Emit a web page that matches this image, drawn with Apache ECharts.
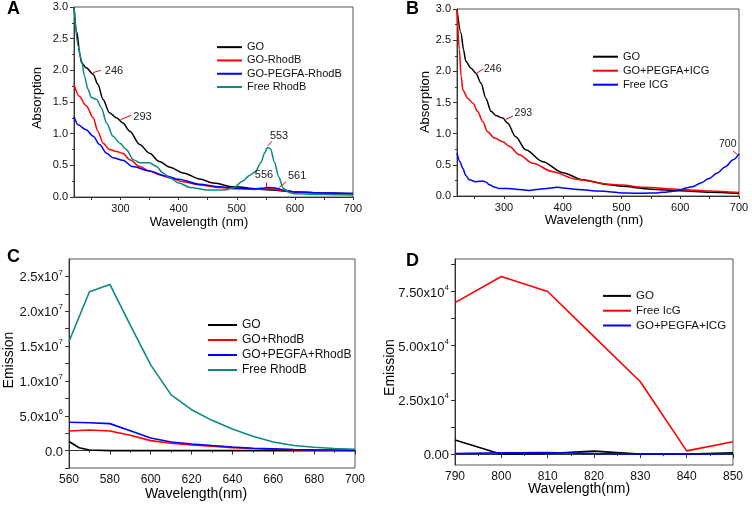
<!DOCTYPE html>
<html><head><meta charset="utf-8">
<script src="https://cdn.jsdelivr.net/npm/echarts@6/dist/echarts.min.js"></script>
<style>html,body{margin:0;padding:0;background:#fff}#c{width:752px;height:507px}</style>
</head><body><div id="c"></div>
<script>
// ---------- Panel A (absorption) ----------
const A_GO_x = [220,225,230,233,241,253,261,270,281,293,304,316,333,350,367,385,408,436,460,494,550,600,650,700];
const A_GO_y = [3.0,2.6,2.25,2.12,2.04,1.94,1.78,1.54,1.33,1.25,1.17,1.04,0.83,0.69,0.56,0.47,0.38,0.285,0.22,0.16,0.115,0.08,0.062,0.045];
const A_RB_x = [220,229,241,253,261,270,281,293,304,316,333,350,367,385,408,436,470,500,530,545,556,568,580,600,650,700];
const A_RB_y = [1.78,1.59,1.44,1.25,1.04,0.85,0.75,0.72,0.69,0.59,0.48,0.41,0.35,0.30,0.24,0.19,0.15,0.13,0.12,0.125,0.13,0.12,0.10,0.08,0.06,0.05];
const A_PEG_x = [220,227,241,253,264,276,287,304,321,350,379,400,436,470,500,530,545,556,568,580,600,650,700];
const A_PEG_y = [1.27,1.14,1.06,0.96,0.83,0.69,0.62,0.58,0.48,0.41,0.33,0.28,0.20,0.16,0.14,0.13,0.14,0.15,0.14,0.11,0.08,0.065,0.06];
const A_FREE_x = [220,227,233,238,244,250,259,267,276,287,299,310,322,333,350,362,373,385,400,420,450,480,495,510,522,532,542,548,553,558,565,572,580,590,600,650,700];
const A_FREE_y = [3.0,2.39,2.15,1.91,1.70,1.57,1.54,1.41,1.17,0.96,0.85,0.75,0.59,0.54,0.54,0.48,0.38,0.30,0.22,0.15,0.11,0.11,0.15,0.25,0.34,0.40,0.55,0.70,0.78,0.76,0.55,0.32,0.14,0.07,0.05,0.04,0.03];

// ---------- Panel B (absorption) ----------
const B_GO_x = [220,227,231,235,244,252,261,269,278,286,298,306,320,337,366,400,434,479,500,550,600,650,700];
const B_GO_y = [3.0,2.61,2.35,2.16,2.05,1.97,1.81,1.57,1.36,1.29,1.25,1.17,0.95,0.74,0.55,0.375,0.26,0.18,0.155,0.11,0.085,0.06,0.04];
const B_PEG_x = [220,224,227,230,238,247,255,264,272,284,298,309,326,349,383,422,479,500,536,600,650,700];
const B_PEG_y = [3.0,2.35,1.92,1.70,1.57,1.49,1.36,1.19,1.03,0.93,0.87,0.80,0.66,0.525,0.39,0.27,0.19,0.175,0.14,0.105,0.08,0.055];
const B_ICG_x = [220,225,230,235,241,252,258,264,270,275,285,292,305,320,343,360,377,390,400,420,434,460,479,500,520,536,560,570,592,600,610,621,635,649,663,677,690,700];
const B_ICG_y = [0.69,0.55,0.44,0.33,0.26,0.23,0.235,0.24,0.22,0.18,0.14,0.12,0.12,0.11,0.09,0.11,0.125,0.14,0.13,0.11,0.10,0.08,0.07,0.05,0.045,0.045,0.05,0.06,0.08,0.10,0.13,0.15,0.21,0.28,0.37,0.47,0.58,0.675];

// ---------- Panel C (emission) ----------
const C_x = [560,570,580,590,600,610,620,630,640,650,660,670,680,690,700];
const C_GO_x = [560,565,570,580,590,600,620,640,660,680,700];
const C_GO_y = [1.3e6,4.0e5,8e4,0,0,0,0,0,0,0,0];
const C_RB_y = [2.81e6,2.96e6,2.81e6,2.19e6,1.43e6,1.05e6,8.1e5,6.2e5,4.3e5,2.9e5,1.9e5,1.2e5,8e4,5e4,3e4];
const C_PEG_y = [4.06e6,4.0e6,3.87e6,2.86e6,1.81e6,1.24e6,9.5e5,7.2e5,5.2e5,3.3e5,2.4e5,1.5e5,1.0e5,8e4,5e4];
const C_FREE_y = [1.565e7,2.28e7,2.385e7,1.80e7,1.23e7,8.0e6,5.87e6,4.34e6,3.1e6,2.05e6,1.24e6,7.2e5,4.8e5,2.9e5,1.9e5];

// ---------- Panel D (emission) ----------
const D_x = [790,800,810,820,830,840,850];
const D_GO_y = [6500,0,300,1400,0,0,600];
const D_FREE_y = [69900,81900,75000,54200,33400,1500,5700];
const D_PEG_y = [300,600,700,300,100,100,200];

// ---------- tick labels ----------
const A_xTicks = [300,400,500,600,700];
const C_yLabels = [0,5e6,1e7,1.5e7,2e7,2.5e7];
const D_yLabels = [0,25000,50000,75000];

const FONT = '"Liberation Sans", Arial, sans-serif';
const RED = '#ff0000', BLUE = '#0000ff', BLACK = '#000000', TEAL = '#0a8a80';

function xy(xs, ys){ return xs.map((x,i)=>[x, ys[i]]); }

function sciLabel(v, digits){
  if (v === 0) return '{b|' + (0).toFixed(digits) + '}';
  const e = Math.floor(Math.log10(v) + 1e-9);
  const m = v / Math.pow(10, e);
  return '{b|' + m.toFixed(digits) + 'x10}{s|' + e + '}';
}

const axisCommon = {
  axisLine:{show:true, lineStyle:{color:'#333', width:1}},
  axisTick:{show:true, inside:false, length:4, lineStyle:{color:'#333'}},
  minorTick:{show:false},
  splitLine:{show:false}
};
function xAxis(gi, min, max, extra, fs){
  return Object.assign({}, axisCommon, {type:'value', gridIndex:gi, min, max,
    axisLabel:{color:'#111', fontSize:fs, fontFamily:FONT, margin:6}}, extra);
}

const grids = [
  {left:74, top:7, width:279, height:190},
  {left:457, top:9, width:282, height:187},
  {left:69, top:259, width:286, height:209},
  {left:455, top:259, width:278, height:206}
].map(g=>Object.assign({show:true, borderColor:'#555', borderWidth:1, containLabel:false}, g));

const xAxes = [
  xAxis(0,220,700,{
    axisLabel:{color:'#111', fontSize:11, fontFamily:FONT, margin:6, customValues:A_xTicks},
    axisTick:{show:true, length:3, lineStyle:{color:'#333'}, customValues:[250,300,350,400,450,500,550,600,650,700]}
  },11),
  xAxis(1,220,700,{
    axisLabel:{color:'#111', fontSize:11, fontFamily:FONT, margin:6, customValues:A_xTicks},
    axisTick:{show:true, length:3, lineStyle:{color:'#333'}, customValues:[250,300,350,400,450,500,550,600,650,700]}
  },11),
  xAxis(2,560,700,{interval:20, minorTick:{show:true, splitNumber:2, length:2, lineStyle:{color:'#333'}},
    axisLabel:{color:'#111', fontSize:12, fontFamily:FONT, margin:6}},12),
  xAxis(3,790,850,{interval:10, minorTick:{show:true, splitNumber:2, length:2, lineStyle:{color:'#333'}},
    axisLabel:{color:'#111', fontSize:12, fontFamily:FONT, margin:6}},12)
];

const yAxes = [
  Object.assign({}, axisCommon, {type:'value', gridIndex:0, min:0, max:3, interval:0.5,
    minorTick:{show:true, splitNumber:2, length:2, lineStyle:{color:'#333'}},
    axisLabel:{color:'#111', fontSize:11, fontFamily:FONT, margin:6, formatter:v=>v.toFixed(1)}}),
  Object.assign({}, axisCommon, {type:'value', gridIndex:1, min:0, max:3, interval:0.5,
    minorTick:{show:true, splitNumber:2, length:2, lineStyle:{color:'#333'}},
    axisLabel:{color:'#111', fontSize:11, fontFamily:FONT, margin:6, formatter:v=>v.toFixed(1)}}),
  Object.assign({}, axisCommon, {type:'value', gridIndex:2, min:-2.5e6, max:2.75e7,
    axisTick:{show:true, length:4, lineStyle:{color:'#333'}, customValues:[-2.5e6,0,2.5e6,5e6,7.5e6,1e7,1.25e7,1.5e7,1.75e7,2e7,2.25e7,2.5e7]},
    axisLabel:{color:'#111', fontFamily:FONT, margin:6, customValues:C_yLabels,
      formatter:v=>sciLabel(v,1),
      rich:{b:{fontSize:13, fontFamily:FONT, color:'#111', lineHeight:16, verticalAlign:'bottom'},
            s:{fontSize:8, fontFamily:FONT, color:'#111', lineHeight:16, verticalAlign:'top'}}}}),
  Object.assign({}, axisCommon, {type:'value', gridIndex:3, min:-5000, max:90000,
    axisTick:{show:true, length:4, lineStyle:{color:'#333'}, customValues:[0,12500,25000,37500,50000,62500,75000,87500]},
    axisLabel:{color:'#111', fontFamily:FONT, margin:6, customValues:D_yLabels,
      formatter:v=>sciLabel(v,2),
      rich:{b:{fontSize:13, fontFamily:FONT, color:'#111', lineHeight:16, verticalAlign:'bottom'},
            s:{fontSize:8, fontFamily:FONT, color:'#111', lineHeight:16, verticalAlign:'top'}}}})
];

function line(name, gi, data, color, width, smooth, extra){
  return Object.assign({type:'line', name, xAxisIndex:gi, yAxisIndex:gi, data,
    symbol:'none', smooth: smooth ? 0.3 : false, smoothMonotone: smooth ? 'x' : undefined,
    lineStyle:{color, width}, itemStyle:{color}, emphasis:{disabled:true}, clip:true, z:3}, extra||{});
}

function arrows(list){
  return {silent:true, symbol:['none','arrow'], symbolSize:[0,5], label:{show:false},
    lineStyle:{color:RED, width:1, type:'solid'}, emphasis:{disabled:true},
    data:list.map(a=>[{coord:[a[0],a[1]]},{coord:[a[2],a[3]]}])};
}
function notes(list, fs){
  return {silent:true, symbol:'circle', symbolSize:0,
    label:{show:true, position:'right', distance:0, formatter:p=>p.name, color:'#222', fontSize:fs, fontFamily:FONT},
    data:list.map(n=>({name:n[0], coord:[n[1],n[2]]}))};
}

const series = [
  line('GO',0,xy(A_GO_x,A_GO_y),BLACK,1.5,true,{
    markPoint:notes([['246',273,1.99],['293',322,1.27],['553',557,0.97],['556',531,0.34],['561',588,0.33]],11),
    markLine:arrows([[253,1.965,266,2.0],[300,1.22,318,1.29],[554,0.81,560,0.88],[551,0.23,551,0.15],[585,0.24,573,0.15]])
  }),
  line('GO-RhodB',0,xy(A_RB_x,A_RB_y),RED,1.5,true),
  line('GO-PEGFA-RhodB',0,xy(A_PEG_x,A_PEG_y),BLUE,1.5,true),
  line('Free RhodB',0,xy(A_FREE_x,A_FREE_y),TEAL,1.5,true),

  line('GO',1,xy(B_GO_x,B_GO_y),BLACK,1.5,true,{
    markPoint:notes([['246',266,2.03],['293',318,1.33],['700',666,0.84]],10.5),
    markLine:arrows([[252,1.96,265,2.04],[303,1.23,315,1.28],[690,0.72,698,0.66]])
  }),
  line('GO+PEGFA+ICG',1,xy(B_PEG_x,B_PEG_y),RED,1.5,true),
  line('Free ICG',1,xy(B_ICG_x,B_ICG_y),BLUE,1.5,true),

  line('GO',2,xy(C_GO_x,C_GO_y),BLACK,1.6,false),
  line('GO+RhodB',2,xy(C_x,C_RB_y),RED,1.6,false),
  line('GO+PEGFA+RhodB',2,xy(C_x,C_PEG_y),BLUE,1.6,false),
  line('Free RhodB',2,xy(C_x,C_FREE_y),TEAL,1.6,false),

  line('GO',3,xy(D_x,D_GO_y),BLACK,1.6,false),
  line('Free IcG',3,xy(D_x,D_FREE_y),RED,1.6,false),
  line('GO+PEGFA+ICG',3,xy(D_x,D_PEG_y),BLUE,1.6,false)
];

function legend(items, left, top, fs, lh, w){
  return {orient:'vertical', left, top, itemWidth:w, itemHeight:2, itemGap:0, icon:'rect',
    selectedMode:false, textStyle:{fontSize:fs, fontFamily:FONT, color:'#111', lineHeight:lh},
    data:items.map(it=>({name:it[0], itemStyle:{color:it[1]}, lineStyle:{color:it[1]}}))};
}

const legends = [
  legend([['GO',BLACK],['GO-RhodB',RED],['GO-PEGFA-RhodB',BLUE],['Free RhodB',TEAL]],212,35.5,11,13.3,25),
  legend([['GO',BLACK],['GO+PEGFA+ICG',RED],['Free ICG',BLUE]],588,44.7,11,14,25),
  legend([['GO',BLACK],['GO+RhodB',RED],['GO+PEGFA+RhodB',BLUE],['Free RhodB',TEAL]],203,312.5,12,15,29),
  legend([['GO',BLACK],['Free IcG',RED],['GO+PEGFA+ICG',BLUE]],598,283.5,11.5,14.8,28)
];

function txt(text, x, y, fs, opts){
  opts = opts || {};
  return {type:'text', x, y, rotation: opts.rot || 0, silent:true, z:10,
    style:{text, font:(opts.bold?'bold ':'') + fs + 'px ' + FONT, fill:'#000',
      textAlign:opts.align||'center', textVerticalAlign:opts.valign||'middle',
      align:opts.align||'center', verticalAlign:opts.valign||'middle'}};
}

const graphics = [
  txt('A',7,9,18,{bold:true,align:'left'}),
  txt('B',406,9,18,{bold:true,align:'left'}),
  txt('C',7,257,18,{bold:true,align:'left'}),
  txt('D',406,261,18,{bold:true,align:'left'}),
  txt('Absorption',37.5,98,13,{rot:Math.PI/2}),
  txt('Wavelength (nm)',199,222,13),
  txt('Absorption',425,102,13,{rot:Math.PI/2}),
  txt('Wavelength (nm)',594,220,13),
  txt('Emission',9.5,360,14,{rot:Math.PI/2}),
  txt('Wavelength(nm)',196,494,14),
  txt('Emission',390,367.5,14,{rot:Math.PI/2}),
  txt('Wavelength(nm)',579,489,14)
];

const chart = echarts.init(document.getElementById('c'), null, {renderer:'canvas'});
chart.setOption({
  animation:false,
  backgroundColor:'#fff',
  grid:grids, xAxis:xAxes, yAxis:yAxes, series, legend:legends, graphic:graphics
});
</script></body></html>
